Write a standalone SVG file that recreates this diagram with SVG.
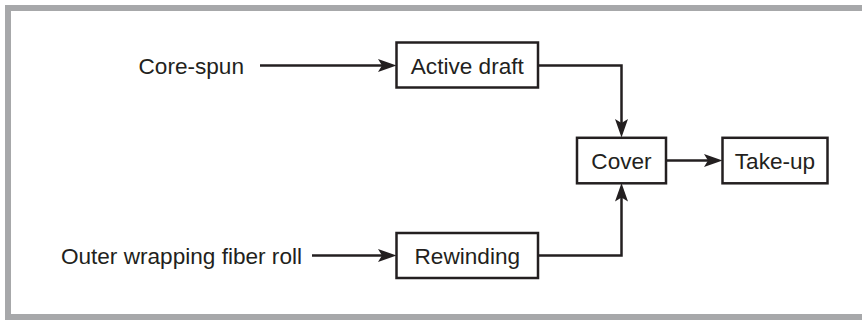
<svg xmlns="http://www.w3.org/2000/svg" width="862" height="320" viewBox="0 0 862 320">
<defs>
<style>
.box{fill:#ffffff;stroke:#231f20;stroke-width:2.5}
.lbl{font-family:"Liberation Sans",Arial,sans-serif;font-size:22.6px;fill:#231f20}
.c{text-anchor:middle}
.e{text-anchor:end}
.conn{fill:none;stroke:#231f20;stroke-width:2.5;marker-end:url(#arr)}
</style>
<marker id="arr" markerUnits="userSpaceOnUse" markerWidth="20" markerHeight="14" viewBox="0 0 20 14" refX="8" refY="7" orient="auto">
<path d="M0,0.5 L18.5,7 L0,13.5 L4,7 Z" fill="#231f20"/>
</marker>
</defs>
<rect x="0" y="0" width="862" height="320" fill="#ffffff"/>
<rect x="8" y="8" width="900" height="309" fill="none" stroke="#a7a8aa" stroke-width="6"/>

<g id="connectors">
<path class="conn" d="M260,65.5 H386"/>
<path class="conn" d="M312,255.5 H386"/>
<path class="conn" d="M538,65.5 H621.5 V127"/>
<path class="conn" d="M538,255.5 H621.5 V193.5"/>
<path class="conn" d="M666,160.5 H712"/>
</g>

<g id="core-spun">
<text class="lbl e" x="244" y="73.5">Core-spun</text>
</g>
<g id="outer-wrapping">
<text class="lbl e" x="302" y="263.5">Outer wrapping fiber roll</text>
</g>
<g id="active-draft">
<rect class="box" x="396.5" y="42.5" width="141.5" height="45"/>
<text class="lbl c" x="467.3" y="73.5">Active draft</text>
</g>
<g id="rewinding">
<rect class="box" x="396.5" y="233" width="141.5" height="45"/>
<text class="lbl c" x="467.3" y="263.5">Rewinding</text>
</g>
<g id="cover">
<rect class="box" x="577" y="137.8" width="89" height="45.5"/>
<text class="lbl c" x="621.5" y="168.5">Cover</text>
</g>
<g id="take-up">
<rect class="box" x="722.5" y="137.8" width="105" height="45.5"/>
<text class="lbl c" x="775" y="168.5">Take-up</text>
</g>
</svg>
